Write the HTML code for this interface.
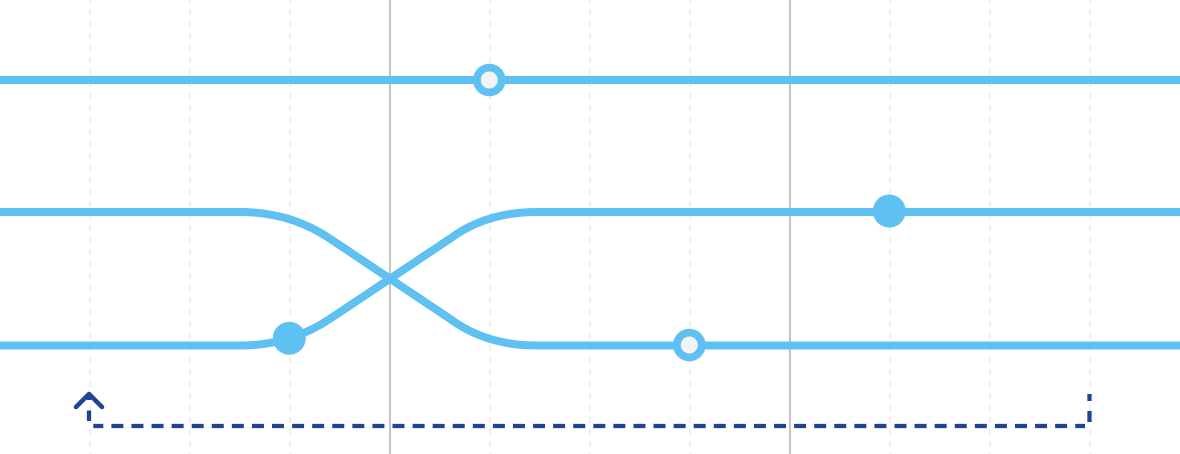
<!DOCTYPE html>
<html lang="en">
<head>
<meta charset="utf-8">
<title>Track switch diagram</title>
<style>
  html, body { margin: 0; padding: 0; background: #ffffff; }
  body { width: 1180px; height: 454px; overflow: hidden; }
  svg { display: block; }
</style>
</head>
<body>
<svg id="chart" xmlns="http://www.w3.org/2000/svg" width="1180" height="454" viewBox="0 0 1180 454">
  <g id="grid"></g>
  <g id="tracks"></g>
  <g id="markers"></g>
  <g fill="none" stroke="#1f4496" stroke-width="4.3">
    <path d="M76 407 L89 394 L102 407" stroke-width="4.5" stroke-linecap="round" stroke-linejoin="round"></path>
    <path d="M89 394 V400 M89 410.5 V421"></path>
    <path d="M93.3 426 H1085" stroke-dasharray="12 8.08" stroke-dashoffset="2"></path>
    <path d="M1089.5 394 V401 M1089.5 411 V422"></path>
  </g>
</svg>
<script>
// Chart data
const gridColumns = [0, 1, 2, 3, 4, 5, 6, 7, 8, 9, 10];
const solidColumns = [3, 7];
const trackNames = ['upper-track', 'middle-track', 'lower-track'];
const trackStartLanes = [0, 0.9944, 2];
const trackEndLanes = [0, 2, 0.9944];
const switchStartColumn = 1.5;
const switchEndColumn = 4.5;
const markerColumns = [4, 8, 2, 6];
const markerLanes = [0, 0.987, 1.945, 1.9962];
const markerHollow = [true, false, false, true];

// Axis functions
function xScale(column) { return 90 + 100 * column; }
function yScale(lane) { return 80 + 132.75 * lane; }

const svgNS = 'http://www.w3.org/2000/svg';
const gridGroup = document.getElementById('grid');
const tracksGroup = document.getElementById('tracks');
const markersGroup = document.getElementById('markers');

gridColumns.forEach(function (column) {
  if (solidColumns.indexOf(column) !== -1) return;
  const line = document.createElementNS(svgNS, 'line');
  
  
  line.setAttribute('x1', xScale(column));
  line.setAttribute('x2', xScale(column));
  line.setAttribute('y1', -3);
  line.setAttribute('y2', 454);
  line.setAttribute('stroke', '#eeeeee');
  line.setAttribute('stroke-width', 2);
  line.setAttribute('stroke-dasharray', '6 6');
  gridGroup.appendChild(line);
});

solidColumns.forEach(function (column) {
  const line = document.createElementNS(svgNS, 'line');
  
  
  line.setAttribute('x1', xScale(column));
  line.setAttribute('x2', xScale(column));
  line.setAttribute('y1', 0);
  line.setAttribute('y2', 454);
  line.setAttribute('stroke', '#c4c4c4');
  line.setAttribute('stroke-width', 2);
  gridGroup.appendChild(line);
});

function trackPath(startLane, endLane) {
  const y0 = yScale(startLane);
  const y1 = yScale(endLane);
  if (startLane === endLane) return 'M0 ' + y0 + ' H1180';
  const x0 = xScale(switchStartColumn);
  const x1 = xScale(switchEndColumn);
  const w = x1 - x0;
  const h = y1 - y0;
  function px(f) { return x0 + w * f; }
  function py(f) { return y0 + h * f; }
  return 'M0 ' + y0 + ' H' + x0 +
    ' C' + px(0.117) + ' ' + py(0) + ' ' + px(0.217) + ' ' + py(0.075) + ' ' + px(0.3) + ' ' + py(0.2) +
    ' L' + px(0.7) + ' ' + py(0.8) +
    ' C' + px(0.775) + ' ' + py(0.925) + ' ' + px(0.87) + ' ' + py(1) + ' ' + (x1 - 3) + ' ' + y1 +
    ' H1180';
}

trackNames.forEach(function (name, i) {
  const path = document.createElementNS(svgNS, 'path');
  
  
  path.setAttribute('d', trackPath(trackStartLanes[i], trackEndLanes[i]));
  path.setAttribute('fill', 'none');
  path.setAttribute('stroke', '#5ec1f2');
  path.setAttribute('stroke-width', 8);
  tracksGroup.appendChild(path);
});

markerColumns.forEach(function (column, i) {
  const circle = document.createElementNS(svgNS, 'circle');
  
  
  circle.setAttribute('cx', xScale(column) - 0.7);
  circle.setAttribute('cy', yScale(markerLanes[i]));
  if (markerHollow[i]) {
    circle.setAttribute('r', 12.4);
    circle.setAttribute('fill', '#f2f4f4');
    circle.setAttribute('stroke', '#5ec1f2');
    circle.setAttribute('stroke-width', 7.8);
  } else {
    circle.setAttribute('r', 16.5);
    circle.setAttribute('fill', '#5ec1f2');
  }
  markersGroup.appendChild(circle);
});
</script>
</body>
</html>
